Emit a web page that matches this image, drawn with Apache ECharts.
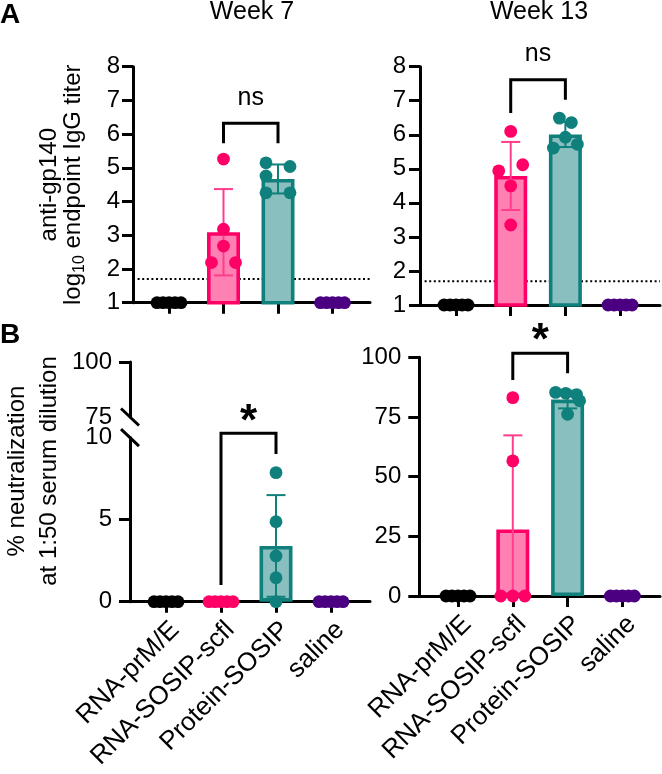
<!DOCTYPE html>
<html>
<head>
<meta charset="utf-8">
<script src="https://cdn.jsdelivr.net/npm/echarts@6/dist/echarts.min.js"></script>
<style>html,body{margin:0;padding:0;background:#fff}#c{width:662px;height:774px}</style>
</head>
<body>
<div id="c"></div>
<script>
// ---------------- DATA ----------------
const categories = ['RNA-prM/E', 'RNA-SOSIP-scfl', 'Protein-SOSIP', 'saline'];
const weekTitles = ['Week 7', 'Week 13'];
const panelLetters = ['A', 'B'];
const lodValue = 1.7; // limit of detection (dotted line)

const elisaTicks = [1, 2, 3, 4, 5, 6, 7, 8];
const neutW7LowTicks = [0, 5, 10];
const neutW7HighTicks = [75, 100];
const neutW13Ticks = [0, 25, 50, 75, 100];

// anti-gp140 log10 endpoint IgG titer, week 7 (5 animals per group)
const elisaW7Points = [
  [1, 1, 1, 1, 1],
  [5.26, 3.18, 2.68, 2.19, 2.19],
  [5.15, 5.04, 4.76, 4.26, 4.26],
  [1, 1, 1, 1, 1]
];
const elisaW7Jitter = [[-2, -1, 0, 1, 2], [0, 0, 0, -2, 2], [-2, 2, -2, -2, 2], [-2, -1, 0, 1, 2]];
const elisaW7Mean = [1, 3.09, 4.67, 1];
const elisaW7SD = [0, 1.28, 0.43, 0];

// week 13
const elisaW13Points = [
  [1, 1, 1, 1, 1],
  [6.10, 5.12, 4.94, 4.50, 3.35],
  [6.49, 6.36, 5.93, 5.72, 5.61],
  [1, 1, 1, 1, 1]
];
const elisaW13Jitter = [[-2, -1, 0, 1, 2], [0, 2, -2, 0, 0], [-1, 1, 0, 2, -2], [-2, -1, 0, 1, 2]];
const elisaW13Mean = [1, 4.79, 6.01, 1];
const elisaW13SD = [0, 1.0, 0.37, 0];

// % neutralization at 1:50 serum dilution, week 7
const neutW7Points = [
  [0, 0, 0, 0, 0],
  [0, 0, 0, 0, 0],
  [7.87, 4.88, 2.79, 1.46, 0],
  [0, 0, 0, 0, 0]
];
const neutW7Jitter = [[-2, -1, 0, 1, 2], [-2, -1, 0, 1, 2], [0, 0, 0, 0, 0], [-2, -1, 0, 1, 2]];
const neutW7Mean = [0, 0, 3.4, 0];
const neutW7SD = [0, 0, 3.1, 0];

// week 13
const neutW13Points = [
  [0, 0, 0, 0, 0],
  [83.1, 56.6, 0, 0, 0],
  [85.3, 84.9, 84.4, 81.8, 76.1],
  [0, 0, 0, 0, 0]
];
const neutW13Jitter = [[-2, -1, 0, 1, 2], [0, 0, -2, 0, 2], [-2, -0.3, 1.5, 2, 0], [-2, -1, 0, 1, 2]];
const neutW13Mean = [0, 27.9, 82.3, 0];
const neutW13SD = [0, 39.4, 3.7, 0];

// significance brackets: [fromGroup, toGroup, topValue, leftLegEnd, rightLegEnd]
const elisaW7Bracket = [1, 2, 6.32, 5.73, 5.73];
const elisaW13Bracket = [1, 2, 7.62, 6.64, 7.03];
const neutW7Bracket = [1, 2, 10.27, 1.02, 9.0];
const neutW13Bracket = [1, 2, 101.7, 90.5, 93.3];
// significance labels: [fromGroup, toGroup, value]
const elisaW7Sig = [1, 2, 7.07];
const elisaW13Sig = [1, 2, 8.36];
const neutW7Sig = [1, 2, 10.88];
const neutW13Sig = [1, 2, 106.4];
const sigLabels = ['ns', 'ns', '*', '*'];

// ---------------- STYLE ----------------
const FONT = "'Liberation Sans', Arial, Helvetica, sans-serif";
const DOT_COLORS = ['#000000', '#ff0066', '#0f807c', '#4b0082'];
const BAR_FILL = ['#000000', '#ff80b3', '#8abfbf', '#4b0082'];
const BAR_EDGE = ['#000000', '#ff0066', '#0f807c', '#4b0082'];
const ERR_COLORS = ['#000000', '#ff3d8c', '#0f807c', '#4b0082'];
const DOT_STEP = 6, DOT_R = 6.4, CAP = 9.5;
const AXIS_W = 3;
const TICK_FS = 24, NAME_FS = 24, CAT_FS = 26;

const grids = [], xAxes = [], yAxes = [], series = [];

function axisLineStyle() { return { color: '#000', width: AXIS_W }; }
function mkGrid(rect) { return Object.assign({ containLabel: false, outerBoundsMode: 'none' }, rect); }

function addFrame(rect, ticks, opts) {
  const gi = grids.length;
  grids.push(mkGrid(rect));
  xAxes.push({
    type: 'value', gridIndex: gi, min: 0, max: 1, show: opts.showX !== false,
    axisLine: { show: true, onZero: false, lineStyle: axisLineStyle() },
    axisTick: { show: false }, axisLabel: { show: false }, splitLine: { show: false }
  });
  const y = {
    type: 'value', gridIndex: gi, min: ticks[0], max: ticks[ticks.length - 1],
    interval: ticks[1] - ticks[0],
    axisLine: { show: true, onZero: false, lineStyle: axisLineStyle() },
    axisTick: { show: true, length: 11, lineStyle: axisLineStyle() },
    axisLabel: { show: true, fontSize: TICK_FS, fontFamily: FONT, color: '#000', margin: opts.labelMargin || 14 },
    splitLine: { show: false }
  };
  if (opts.tickValues) y.axisTick.customValues = opts.tickValues;
  if (opts.labelValues) y.axisLabel.customValues = opts.labelValues;
  yAxes.push(y);
  return gi;
}

function addNameGrid(rect, name, gap, rich, lineHeight) {
  const gi = grids.length;
  grids.push(mkGrid(rect));
  xAxes.push({ type: 'value', gridIndex: gi, min: 0, max: 1, show: false });
  yAxes.push({
    type: 'value', gridIndex: gi, min: 0, max: 1,
    axisLine: { show: false }, axisTick: { show: false }, axisLabel: { show: false }, splitLine: { show: false },
    name: name, nameLocation: 'middle', nameRotate: 90, nameGap: gap,
    nameTextStyle: { fontSize: NAME_FS, fontFamily: FONT, color: '#000', lineHeight: lineHeight, rich: rich || {} }
  });
  return gi;
}

function addMain(rect, ticks, showLabels) {
  const gi = grids.length;
  grids.push(mkGrid(rect));
  xAxes.push({
    type: 'category', gridIndex: gi, data: categories,
    axisLine: { show: false },
    axisTick: { show: true, alignWithLabel: true, interval: 0, length: 11, lineStyle: axisLineStyle() },
    axisLabel: {
      show: showLabels, interval: 0, rotate: 45, fontSize: CAT_FS, fontFamily: FONT, color: '#000',
      margin: 15, verticalAlign: 'top', align: 'right'
    },
    splitLine: { show: false }
  });
  yAxes.push({ type: 'value', gridIndex: gi, min: ticks[0], max: ticks[ticks.length - 1], show: false });
  return gi;
}

function addData(gi, yMin, points, jitter, mean, sd, bracket, sig, sigLabel) {
  // bars
  series.push({
    type: 'bar', xAxisIndex: gi, yAxisIndex: gi, barWidth: 33, z: 2, silent: true,
    data: mean.map((m, g) => m > yMin ? {
      value: m, itemStyle: { color: BAR_FILL[g], borderColor: BAR_EDGE[g], borderWidth: 3.6 }
    } : '-')
  });
  // error bars
  const errData = [];
  mean.forEach((m, g) => { if (sd[g] > 0) errData.push([g, m, sd[g]]); });
  series.push({
    type: 'custom', xAxisIndex: gi, yAxisIndex: gi, z: 3, silent: true,
    data: errData, encode: { x: 0, y: 1 },
    renderItem: function (params, api) {
      const g = api.value(0), m = api.value(1), s = api.value(2);
      const loRaw = m - s, lo = Math.max(loRaw, yMin);
      const top = api.coord([g, m + s]), bot = api.coord([g, lo]);
      const x = top[0];
      const st = { stroke: ERR_COLORS[g], lineWidth: 2 };
      const ch = [
        { type: 'line', shape: { x1: x, y1: top[1], x2: x, y2: bot[1] }, style: st },
        { type: 'line', shape: { x1: x - CAP, y1: top[1], x2: x + CAP, y2: top[1] }, style: st }
      ];
      if (loRaw >= yMin) ch.push({ type: 'line', shape: { x1: x - CAP, y1: bot[1], x2: x + CAP, y2: bot[1] }, style: st });
      return { type: 'group', children: ch };
    }
  });
  // dots
  const dotData = [];
  points.forEach((arr, g) => arr.forEach((v, i) => dotData.push([g, v, jitter[g][i]])));
  series.push({
    type: 'custom', xAxisIndex: gi, yAxisIndex: gi, z: 4, silent: true,
    data: dotData, encode: { x: 0, y: 1 },
    renderItem: function (params, api) {
      const g = api.value(0);
      const p = api.coord([g, api.value(1)]);
      return { type: 'circle', shape: { cx: p[0] + api.value(2) * DOT_STEP, cy: p[1], r: DOT_R }, style: { fill: DOT_COLORS[g] } };
    }
  });
  // bracket
  series.push({
    type: 'custom', xAxisIndex: gi, yAxisIndex: gi, z: 5, silent: true,
    data: [bracket], encode: { x: 0, y: 2 },
    renderItem: function (params, api) {
      const a = api.coord([api.value(0), api.value(2)]);
      const b = api.coord([api.value(1), api.value(2)]);
      const al = api.coord([api.value(0), api.value(3)]);
      const bl = api.coord([api.value(1), api.value(4)]);
      return {
        type: 'polyline',
        shape: { points: [[a[0], al[1]], [a[0], a[1]], [b[0], b[1]], [b[0], bl[1]]] },
        style: { stroke: '#000', lineWidth: 3, fill: 'none' }
      };
    }
  });
  // significance label
  const star = sigLabel === '*';
  series.push({
    type: 'custom', xAxisIndex: gi, yAxisIndex: gi, z: 5, silent: true,
    data: [sig], encode: { x: 0, y: 2 },
    renderItem: function (params, api) {
      const a = api.coord([api.value(0), api.value(2)]);
      const b = api.coord([api.value(1), api.value(2)]);
      return {
        type: 'text', x: (a[0] + b[0]) / 2, y: a[1],
        style: {
          text: sigLabel, fill: '#000', align: 'center', verticalAlign: 'middle',
          fontSize: star ? 44 : 25, fontWeight: star ? 'bold' : 'normal', fontFamily: FONT
        }
      };
    }
  });
}

function addLod(gi) {
  series.push({
    type: 'line', xAxisIndex: gi, yAxisIndex: gi, z: 1, silent: true, symbol: 'none',
    data: [[0, lodValue], [1, lodValue]],
    lineStyle: { color: '#000', width: 2, type: [2, 2.6] }
  });
}

function addBreakMark(gi, value) {
  series.push({
    type: 'custom', xAxisIndex: gi, yAxisIndex: gi, z: 5, silent: true,
    data: [[0, value]], encode: { x: 0, y: 1 },
    renderItem: function (params, api) {
      const p = api.coord([api.value(0), api.value(1)]);
      return { type: 'line', shape: { x1: p[0] - 9, y1: p[1] - 8.5, x2: p[0] + 9, y2: p[1] + 8.5 }, style: { stroke: '#000', lineWidth: 3 } };
    }
  });
}

// ---------------- PANELS ----------------
const richName = {
  t: { fontSize: NAME_FS, fontFamily: FONT, color: '#000', lineHeight: 24 },
  s: { fontSize: 16, fontFamily: FONT, color: '#000', lineHeight: 16, padding: [13, 0, 0, 0] }
};

// A, week 7
{
  const f = addFrame({ left: 133, top: 66.7, width: 237, height: 236 }, elisaTicks, { labelMargin: 13 });
  addLod(f);
  addNameGrid({ left: 133, top: 66.7, width: 237, height: 236 }, 'anti-gp140\n{t|log}{s|10}{t| endpoint IgG titer}', 48, richName, 24);
  const m = addMain({ left: 141.75, top: 66.7, width: 218, height: 236 }, elisaTicks, false);
  addData(m, elisaTicks[0], elisaW7Points, elisaW7Jitter, elisaW7Mean, elisaW7SD, elisaW7Bracket, elisaW7Sig, sigLabels[0]);
}
// A, week 13
{
  const f = addFrame({ left: 420, top: 66.7, width: 240, height: 238.3 }, elisaTicks, { labelMargin: 14 });
  addLod(f);
  const m = addMain({ left: 428.7, top: 66.7, width: 218.7, height: 238.3 }, elisaTicks, false);
  addData(m, elisaTicks[0], elisaW13Points, elisaW13Jitter, elisaW13Mean, elisaW13SD, elisaW13Bracket, elisaW13Sig, sigLabels[1]);
}
// B, week 7 (broken axis)
{
  const lo = addFrame({ left: 130, top: 437.7, width: 240, height: 164 }, neutW7LowTicks,
    { labelMargin: 18, tickValues: [0, 5], labelValues: [0, 5, 10] });
  const up = addFrame({ left: 130, top: 362, width: 240, height: 55 }, neutW7HighTicks,
    { labelMargin: 18, tickValues: [100], labelValues: [75, 100], showX: false });
  addBreakMark(lo, neutW7LowTicks[neutW7LowTicks.length - 1]);
  addBreakMark(up, neutW7HighTicks[0]);
  addNameGrid({ left: 130, top: 340, width: 240, height: 262 }, '% neutralization\nat 1:50 serum dilution', 65, {}, 32);
  const m = addMain({ left: 138.5, top: 437.7, width: 220, height: 164 }, neutW7LowTicks, true);
  addData(m, neutW7LowTicks[0], neutW7Points, neutW7Jitter, neutW7Mean, neutW7SD, neutW7Bracket, neutW7Sig, sigLabels[2]);
}
// B, week 13
{
  addFrame({ left: 419.3, top: 357.3, width: 240.7, height: 238.7 }, neutW13Ticks, { labelMargin: 18 });
  const m = addMain({ left: 430.6, top: 357.3, width: 219.2, height: 238.7 }, neutW13Ticks, true);
  addData(m, neutW13Ticks[0], neutW13Points, neutW13Jitter, neutW13Mean, neutW13SD, neutW13Bracket, neutW13Sig, sigLabels[3]);
}

const titleStyle = { fontSize: 25, fontWeight: 'normal', fontFamily: FONT, color: '#000' };
const letterStyle = { fontSize: 28, fontWeight: 'bold', fontFamily: FONT, color: '#000' };

const option = {
  animation: false,
  backgroundColor: '#ffffff',
  title: [
    { text: weekTitles[0], left: 252, top: 0, textAlign: 'center', padding: 0, textStyle: titleStyle },
    { text: weekTitles[1], left: 539, top: 0, textAlign: 'center', padding: 0, textStyle: titleStyle },
    { text: panelLetters[0], left: 0, top: 1, padding: 0, textStyle: letterStyle },
    { text: panelLetters[1], left: 0, top: 321, padding: 0, textStyle: letterStyle }
  ],
  grid: grids,
  xAxis: xAxes,
  yAxis: yAxes,
  series: series
};

const chart = echarts.init(document.getElementById('c'), null, { renderer: 'canvas' });
chart.setOption(option);
</script>
</body>
</html>
